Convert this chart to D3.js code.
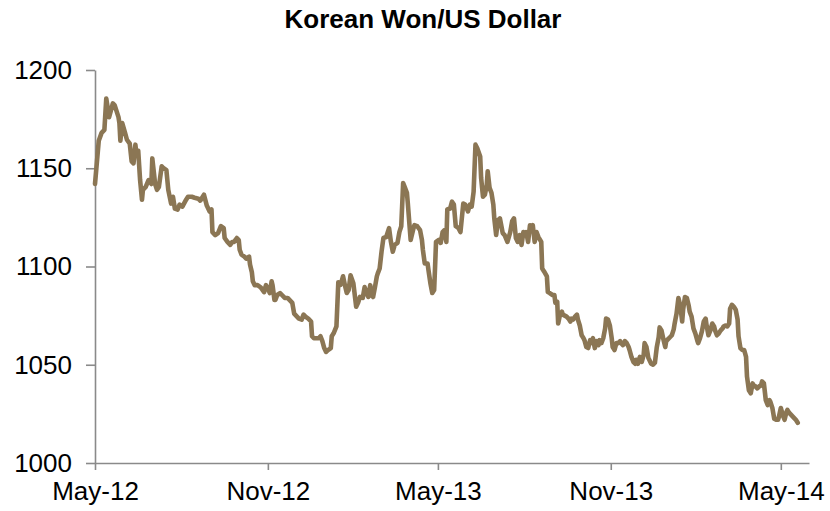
<!DOCTYPE html>
<html>
<head>
<meta charset="utf-8">
<script src="https://cdn.jsdelivr.net/npm/d3@7"></script>
<style>
  html, body { margin: 0; padding: 0; background: #fff; }
  svg { display: block; font-family: "Liberation Sans", Arial, sans-serif; }
</style>
</head>
<body>
<svg id="chart" width="830" height="511"></svg>
<script>
// Korean won per US dollar, sampled on calendar days counted from the series start.
const chartTitle = "Korean Won/US Dollar";
const seriesStart = "2012-05-01";
const dayOffsets = [
  0, 4, 7, 10, 12, 15, 19, 21, 25, 26, 27, 29, 32, 34, 37, 39, 41, 43, 44, 46,
  48, 50, 51, 54, 57, 60, 61, 64, 66, 68, 71, 73, 76, 78, 81, 83, 85, 88, 90, 93,
  97, 99, 103, 106, 110, 112, 116, 119, 122, 124, 125, 128, 131, 134, 137, 138, 141, 144, 146, 148,
  151, 153, 154, 156, 159, 161, 164, 165, 167, 168, 170, 173, 176, 177, 180, 182, 184, 186, 188, 189,
  191, 192, 194, 197, 199, 202, 205, 207, 210, 212, 215, 217, 220, 222, 224, 227, 230, 231, 233, 238,
  240, 242, 244, 246, 248, 251, 252, 254, 257, 259, 261, 262, 264, 266, 268, 270, 272, 275, 278, 280,
  282, 285, 287, 289, 291, 293, 294, 296, 298, 300, 301, 303, 305, 307, 310, 313, 315, 317, 319, 322,
  324, 326, 328, 330, 332, 333, 335, 336, 339, 340, 343, 346, 348, 349, 351, 354, 355, 357, 359, 361,
  362, 363, 366, 368, 370, 372, 374, 375, 378, 380, 382, 384, 387, 389, 392, 394, 397, 399, 401, 403,
  405, 407, 410, 411, 413, 415, 417, 418, 420, 422, 424, 425, 427, 429, 431, 433, 434, 436, 439, 442,
  444, 446, 448, 450, 452, 454, 456, 458, 459, 461, 463, 465, 466, 468, 470, 472, 475, 476, 478, 481,
  482, 484, 487, 489, 490, 492, 493, 495, 497, 498, 502, 504, 506, 507, 509, 511, 513, 514, 516, 518,
  520, 521, 523, 525, 527, 528, 530, 532, 534, 536, 537, 539, 541, 543, 544, 546, 548, 550, 551, 553,
  555, 557, 559, 560, 562, 564, 566, 568, 569, 571, 573, 575, 576, 578, 580, 582, 584, 585, 587, 589,
  591, 592, 594, 596, 598, 600, 601, 603, 605, 607, 608, 610, 612, 614, 616, 617, 619, 621, 623, 625,
  626, 628, 630, 632, 633, 635, 637, 639, 641, 642, 644, 646, 648, 650, 651, 653, 655, 657, 659, 660,
  662, 664, 666, 668, 669, 671, 673, 675, 676, 678, 680, 682, 684, 685, 687, 689, 691, 693, 694, 696,
  698, 700, 701, 703, 705, 707, 709, 710, 712, 714, 716, 718, 719, 721, 723, 725, 727, 728, 730, 732,
  734, 736, 737, 739, 741, 743, 745, 746, 748
];
const krwPerUsd = [
  1142, 1164, 1168, 1169.5, 1185.5, 1176, 1183, 1182, 1176, 1173, 1164, 1173, 1168, 1164.5, 1162.5, 1153.5, 1152.5, 1162, 1157.5, 1159,
  1144, 1134, 1139, 1140.5, 1144, 1142, 1155, 1142, 1139, 1140.5, 1151, 1150, 1149, 1139, 1132, 1135.5, 1129.5, 1129, 1131.5, 1130.5,
  1134, 1135.5, 1135.5, 1135, 1134.5, 1133.5, 1136.5, 1131, 1128, 1129, 1117.5, 1116, 1117, 1120.5, 1119.5, 1114.5, 1112.5, 1111, 1112.5, 1112.5,
  1114.5, 1113.5, 1108.5, 1106, 1105, 1104, 1105, 1101, 1097, 1092.5, 1090.5, 1090.5, 1089.5, 1089, 1087, 1090.5, 1089, 1086.5, 1092.5, 1090.5,
  1083, 1083, 1085.5, 1086.5, 1085.5, 1084, 1084, 1083, 1081.5, 1076, 1074.5, 1073.5, 1073, 1075.5, 1074.5, 1073.5, 1072, 1064.5, 1063.5, 1063.5,
  1064.5, 1062, 1058.5, 1056.5, 1057.5, 1058.5, 1064.5, 1066, 1069.5, 1092, 1090.5, 1091.5, 1095, 1090.5, 1086.5, 1088, 1095.5, 1091.5, 1079.5, 1081.5,
  1084.5, 1084, 1089.5, 1086.5, 1084.5, 1090.5, 1085.5, 1084.5, 1089.5, 1095, 1096.5, 1099, 1107.5, 1114.5, 1115, 1119.5, 1112.5, 1107.5, 1111, 1112,
  1117.5, 1120.5, 1142.5, 1140, 1137.5, 1132, 1119.5, 1113.5, 1119.5, 1121, 1120.5, 1118.5, 1113.5, 1108.5, 1101.5, 1101.5, 1098, 1091.5, 1086.5, 1088,
  1100, 1112.5, 1113.5, 1112, 1117.5, 1118.5, 1112.5, 1129, 1129.5, 1133, 1131.5, 1120.5, 1119.5, 1117.5, 1132, 1131.5, 1128, 1131.5, 1130.5, 1138,
  1162, 1160, 1156, 1145, 1135.5, 1136.5, 1141.5, 1148.5, 1140, 1137.5, 1131.5, 1124.5, 1116, 1123.5, 1124.5, 1119.5, 1117, 1116, 1112.5, 1117.5,
  1123, 1124.5, 1114.5, 1112.5, 1116, 1111, 1117.5, 1116, 1117.5, 1112.5, 1121, 1119.5, 1121, 1112.5, 1117.5, 1115, 1112.5, 1099, 1097.5, 1095,
  1087, 1086.5, 1085.5, 1085.5, 1081.5, 1082, 1071, 1075.5, 1077, 1075.5, 1074.5, 1073.5, 1072, 1073.5, 1073, 1074.5, 1075.5, 1073, 1070, 1065,
  1063.5, 1062.5, 1059, 1058.5, 1062.5, 1061, 1063.5, 1058.5, 1062, 1060, 1062.5, 1061, 1063.5, 1068.5, 1073.5, 1073, 1070, 1063.5, 1059, 1057.5,
  1061, 1061, 1062, 1061, 1060, 1062, 1061, 1059, 1057.5, 1054, 1051.5, 1050.5, 1052.5, 1050.5, 1054, 1051.5, 1055, 1061, 1059, 1053.5,
  1051.5, 1050.5, 1050, 1051, 1059, 1064, 1069, 1067.5, 1063, 1059, 1062, 1063, 1064, 1065, 1068, 1071, 1076, 1084, 1080, 1072,
  1078, 1084.5, 1084, 1080, 1077, 1074.5, 1068.5, 1066, 1062.5, 1061, 1063.5, 1067, 1072, 1073.5, 1070, 1065, 1067.5, 1071, 1069.5, 1067.5,
  1065, 1066, 1067.5, 1068.5, 1069.5, 1070, 1069.5, 1071, 1078.5, 1080.5, 1079.5, 1078, 1073, 1064.5, 1058.5, 1057.5, 1057.5, 1054, 1044, 1037,
  1035.5, 1040.5, 1039.5, 1039, 1038, 1039, 1039.5, 1041.5, 1040.5, 1032, 1029.5, 1032, 1031, 1028, 1022.5, 1022, 1022, 1023.5, 1028, 1024.5,
  1022, 1026, 1027, 1025.5, 1024.5, 1023.5, 1022.5, 1022, 1020.5
];
const yTickValues = [1000, 1050, 1100, 1150, 1200];
const xTickDates = ["2012-05-01", "2012-11-01", "2013-05-01", "2013-11-01", "2014-05-01"];
const xTickLabels = ["May-12", "Nov-12", "May-13", "Nov-13", "May-14"];
const axisEnd = "2014-05-31";

const parse = d3.utcParse("%Y-%m-%d");
const start = parse(seriesStart);
const series = dayOffsets.map((n, i) => ({ date: d3.utcDay.offset(start, n), value: krwPerUsd[i] }));

const svg = d3.select("#chart");
const plot = { left: 95, right: 809, top: 70, bottom: 463 };

const x = d3.scaleUtc()
  .domain([start, parse(axisEnd)])
  .range([plot.left, plot.right]);

const y = d3.scaleLinear()
  .domain([1000, 1200])
  .range([plot.bottom, plot.top]);

const axisColor = "#8a8a8a";

// Title
svg.append("text")
  .attr("x", 423)
  .attr("y", 28)
  .attr("text-anchor", "middle")
  .attr("font-size", 26)
  .attr("font-weight", "bold")
  .attr("fill", "#000")
  .text(chartTitle);

// Y axis
const yAxis = svg.append("g")
  .attr("transform", `translate(${plot.left},0)`)
  .call(d3.axisLeft(y).tickValues(yTickValues).tickSize(9).tickSizeOuter(0).tickPadding(14).tickFormat(d3.format("d")));

// X axis
const tickIndex = new Map(xTickDates.map((d, i) => [+parse(d), xTickLabels[i]]));
const xAxis = svg.append("g")
  .attr("transform", `translate(0,${plot.bottom})`)
  .call(d3.axisBottom(x).tickValues(xTickDates.map(parse)).tickSize(7).tickSizeOuter(0).tickPadding(12)
    .tickFormat(d => tickIndex.get(+d)));

[yAxis, xAxis].forEach(g => {
  g.select(".domain").attr("stroke", axisColor).attr("stroke-width", 1.6);
  g.selectAll(".tick line").attr("stroke", axisColor).attr("stroke-width", 1.6);
  g.selectAll(".tick text")
    .attr("fill", "#000")
    .attr("font-size", 26)
    .attr("font-family", "\"Liberation Sans\", Arial, sans-serif");
});

// Exchange rate line
svg.append("path")
  .datum(series)
  .attr("fill", "none")
  .attr("stroke", "#8b7654")
  .attr("stroke-width", 4.6)
  .attr("stroke-linejoin", "round")
  .attr("stroke-linecap", "round")
  .attr("d", d3.line().x(d => x(d.date)).y(d => y(d.value)));
</script>
</body>
</html>
